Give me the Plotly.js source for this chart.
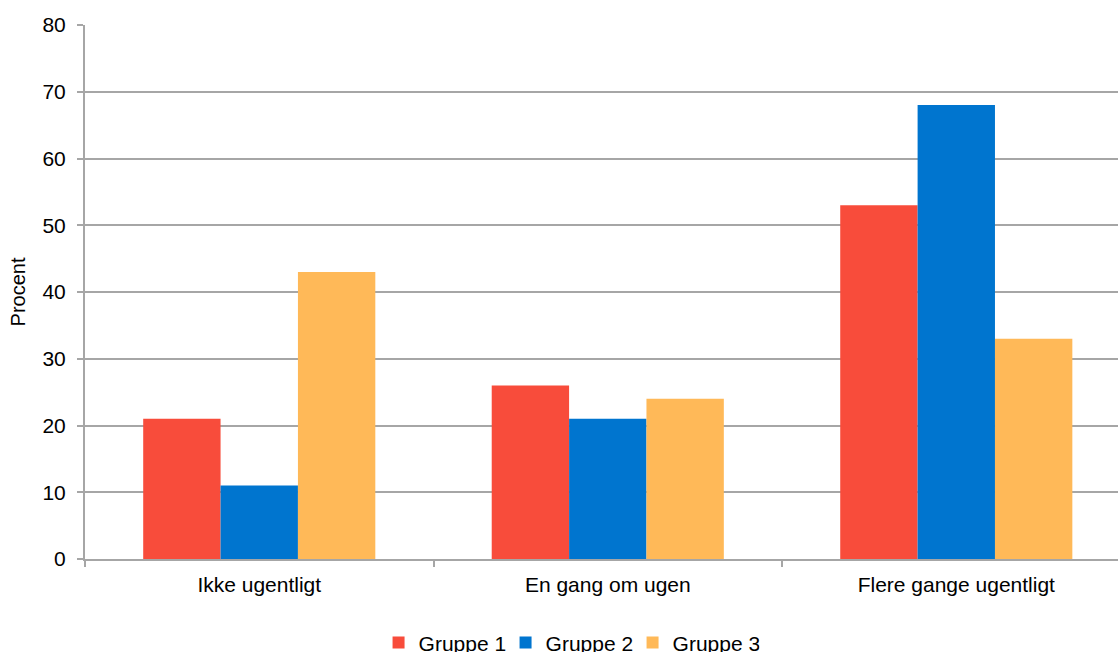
<!DOCTYPE html>
<html><head><meta charset="utf-8">
<script src="https://cdn.plot.ly/plotly-3.0.1.min.js"></script>
<style>html,body{margin:0;padding:0;background:#fff;overflow:hidden}#chart{width:1118px;height:652px}</style>
</head><body><div id="chart"></div>
<script>
const categories = ["Ikke ugentligt", "En gang om ugen", "Flere gange ugentligt"];
const seriesNames = ["Gruppe 1", "Gruppe 2", "Gruppe 3"];
const gruppe1 = [21, 26, 53];
const gruppe2 = [11, 21, 68];
const gruppe3 = [43, 24, 33];
const yTicks = [0, 10, 20, 30, 40, 50, 60, 70, 80];
const colors = ["#F84C3B", "#0075CF", "#FFB958"];

const values = [gruppe1, gruppe2, gruppe3];
const traces = values.map((v, i) => ({
  type: "bar", name: seriesNames[i], x: categories, y: v,
  marker: {color: colors[i], line: {width: 0}}
}));

const fam = "Liberation Sans, Arial, sans-serif";
const font = {family: fam, size: 21, color: "#000"};
Plotly.newPlot("chart", traces, {
  width: 1118, height: 652,
  margin: {l: 85, r: 0, t: 25, b: 93, autoexpand: false},
  paper_bgcolor: "#fff", plot_bgcolor: "#fff",
  barmode: "group", bargap: 0.334, bargroupgap: 0,
  font: font,
  showlegend: true,
  legend: {orientation: "h", x: 0.3386, xanchor: "left", xref: "container",
           y: 0.014, yanchor: "middle", yref: "container",
           font: {family: fam, size: 21, color: "#000"}, itemwidth: 30, entrywidth: 82,
           tracegroupgap: 0, bgcolor: "rgba(0,0,0,0)"},
  xaxis: {
    type: "category", range: [-0.5, 2.464], tickson: "boundaries",
    ticks: "outside", ticklen: 6, tickcolor: "#a6a6a6", tickwidth: 2,
    showline: true, linecolor: "#a6a6a6", linewidth: 2,
    showgrid: false, zeroline: false, tickfont: font, automargin: false,
    ticklabelstandoff: 6
  },
  yaxis: {
    range: [0, 80], tickvals: yTicks, ticktext: yTicks.map(String),
    ticks: "outside", ticklen: 6, tickcolor: "#a6a6a6", tickwidth: 2,
    showline: true, linecolor: "#a6a6a6", linewidth: 2,
    showgrid: true, gridcolor: "#a6a6a6", gridwidth: 2, zeroline: false,
    tickfont: font, automargin: false, ticklabelstandoff: 7,
    title: {text: "Procent", font: {family: fam, size: 20, color: "#000"}, standoff: 11}
  }
}, {displayModeBar: false, staticPlot: true});
</script></body></html>
